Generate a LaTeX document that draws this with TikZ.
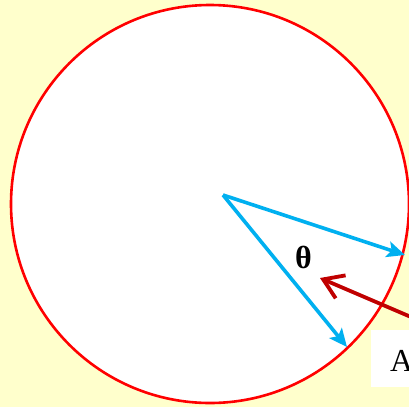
\documentclass[tikz,border=0pt]{standalone}
\usepackage{fontspec}
\setmainfont{Liberation Serif}
\definecolor{bgyellow}{RGB}{255,255,204}
\definecolor{ringred}{RGB}{255,0,0}
\definecolor{raycyan}{RGB}{0,176,240}
\definecolor{ptrred}{RGB}{192,0,0}
\usetikzlibrary{arrows.meta,positioning}

\begin{document}
\begin{tikzpicture}[x=1pt,y=-1pt,
  ring/.style={draw=ringred,line width=2.6pt,fill=white},
  ray/.style={-{Stealth[length=18pt,width=16pt,inset=4pt]},line width=3.6pt,raycyan},
  pointer/.style={-{Straight Barb[length=19pt,width=25pt]},line width=3.8pt,ptrred},
  lbl/.style={font=\fontsize{32}{38}\selectfont}
]
  % background and frame
  \fill[bgyellow] (0,0) rectangle (409,407);
  \useasboundingbox (0,0) rectangle (409,407);
  % circle
  \draw[ring] (210,204) circle[radius=199];
  % rays from the centre
  \coordinate (O) at (223,195);
  \coordinate (P) at (405,255);
  \coordinate (Q) at (347,347);
  \draw[ray] (O) -- (P);
  \draw[ray] (O) -- (Q);
  \node[lbl,font=\fontsize{32}{38}\selectfont\bfseries] (theta) at (303.5,257) {θ};
  % pointer towards the angle
  \coordinate (tail) at (432,326);
  \coordinate (tip) at (320,278);
  \draw[pointer] (tail) -- (tip);
  % label box at the edge
  \node[lbl,fill=white,inner xsep=19pt,inner ysep=0pt,text height=41pt,text depth=16pt,
    anchor=base west] (arcA) at (371,371) {A};
\end{tikzpicture}
\end{document}
